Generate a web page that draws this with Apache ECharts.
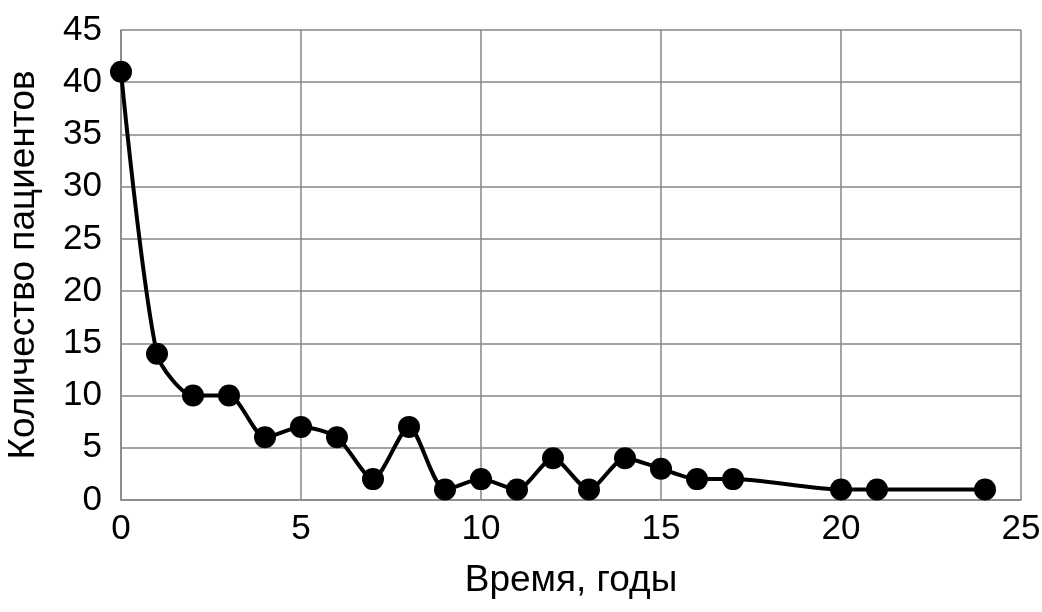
<!DOCTYPE html>
<html><head><meta charset="utf-8">
<script src="https://cdn.jsdelivr.net/npm/echarts@6/dist/echarts.min.js"></script>
<style>html,body{margin:0;padding:0;background:#fff}#c{width:1042px;height:612px}</style>
</head><body><div id="c"></div>
<script>
const years = [0,1,2,3,4,5,6,7,8,9,10,11,12,13,14,15,16,17,20,21,24];
const patients = [41,14,10,10,6,7,6,2,7,1,2,1,4,1,4,3,2,2,1,1,1];
const xTitle = 'Время, годы';
const yTitle = 'Количество пациентов';
const chart = echarts.init(document.getElementById('c'));
const font = 'Liberation Sans, Arial, sans-serif';
chart.setOption({
  animation:false,
  grid:{left:121,right:21,top:30,bottom:112,containLabel:false,outerBoundsMode:'none'},
  xAxis:{type:'value',min:0,max:25,interval:5,
    name:xTitle,nameLocation:'middle',nameGap:62,
    nameTextStyle:{fontSize:37,color:'#000',fontFamily:font},
    axisLine:{show:true,lineStyle:{color:'#868686',width:1.5}},
    axisTick:{show:false},
    axisLabel:{fontSize:35,color:'#000',fontFamily:font,margin:12},
    splitLine:{show:true,lineStyle:{color:'#868686',width:1.5}}
  },
  yAxis:{type:'value',min:0,max:45,interval:5,
    name:yTitle,nameLocation:'middle',nameGap:79,
    nameTextStyle:{fontSize:37,color:'#000',fontFamily:font},
    axisLine:{show:true,lineStyle:{color:'#868686',width:1.5}},
    axisTick:{show:false},
    axisLabel:{fontSize:35,color:'#000',fontFamily:font,margin:19},
    splitLine:{show:true,lineStyle:{color:'#868686',width:1.5}}
  },
  series:[{type:'line',data:years.map((x,i)=>[x,patients[i]]),
    smooth:0.25,symbol:'circle',symbolSize:22,
    lineStyle:{color:'#000',width:4},itemStyle:{color:'#000'}
  }]
});
</script></body></html>
